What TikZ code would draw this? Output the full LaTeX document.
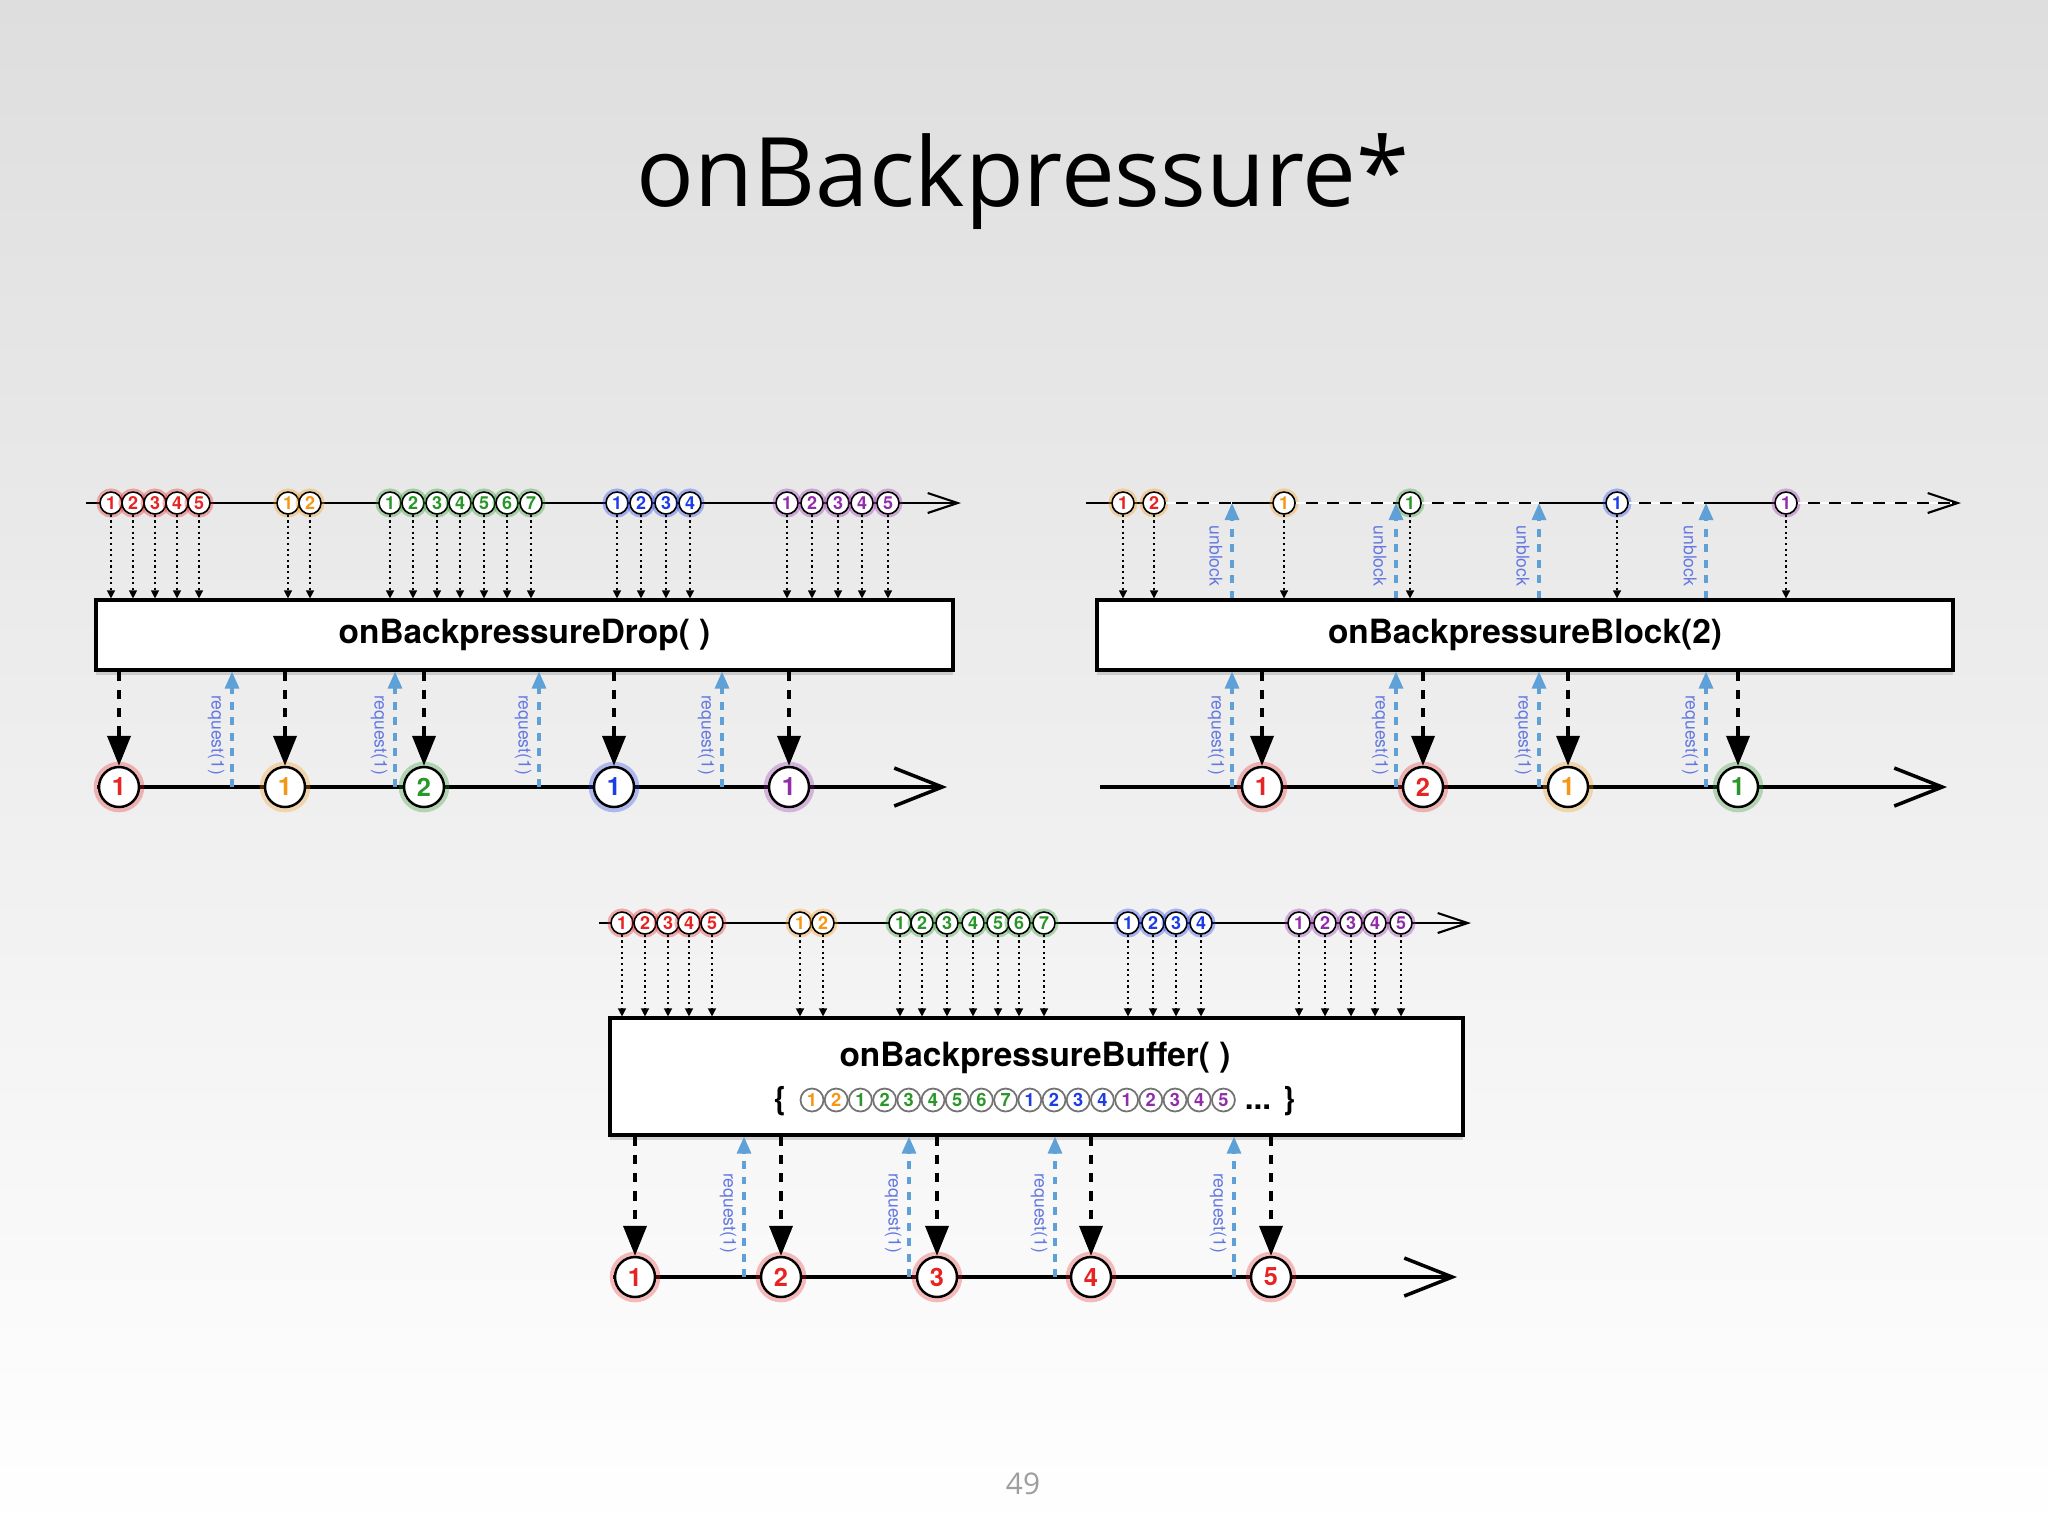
\documentclass[tikz,border=0pt]{standalone}
\usepackage{fontspec}
\setmainfont{Open Sans}
\newfontfamily\heros{TeX Gyre Heros}
\usetikzlibrary{arrows.meta,calc,positioning,shadows}
\definecolor{mred}{RGB}{232,35,35}
\definecolor{morange}{RGB}{245,150,20}
\definecolor{mgreen}{RGB}{40,150,40}
\definecolor{mblue}{RGB}{30,60,230}
\definecolor{mpurple}{RGB}{145,45,170}
\definecolor{reqblue}{RGB}{95,160,215}
\definecolor{lblblue}{RGB}{100,120,225}
\definecolor{bgtop}{RGB}{222,222,222}

\begin{document}
\begin{tikzpicture}[x=0.1mm,y=-0.1mm,
    marble/.style={circle,draw=black,line width=0.45pt,fill=white,inner sep=0pt,minimum size=2.2mm,text=#1,
      font={\heros\bfseries\fontsize{5.1}{6}\selectfont},preaction={draw=#1,draw opacity=0.35,line width=2pt}},
    bigmarble/.style={circle,draw=black,line width=0.7pt,fill=white,inner sep=0pt,minimum size=4mm,text=#1,
      font={\heros\bfseries\fontsize{7.2}{8}\selectfont},preaction={draw=#1,draw opacity=0.3,line width=3pt}},
    bufmarble/.style={circle,draw=black!55,line width=0.5pt,fill=white,inner sep=0pt,minimum size=2.3mm,text=#1,
      font={\heros\bfseries\fontsize{5.2}{6}\selectfont}},
    opbox/.style={draw,line width=0.9pt,fill=white,inner sep=0pt,
      drop shadow={shadow xshift=0pt,shadow yshift=-1.5pt,opacity=0.3}},
    optext/.style={font={\heros\bfseries\fontsize{9.5}{11}\selectfont}},
    srcline/.style={line width=0.6pt,-{Straight Barb[length=3mm,width=2mm]}},
    gap/.style={draw=white,line width=0.75pt,dash pattern=on 2.8pt off 3.4pt},
    resline/.style={line width=1pt,-{Straight Barb[length=4.8mm,width=3.8mm]}},
    feed/.style={line width=0.35pt,dash pattern=on 0.6pt off 1pt,-{Triangle[length=0.8mm,width=0.8mm]}},
    emit/.style={line width=1.1pt,dash pattern=on 2.6pt off 2.6pt,-{Triangle[length=3mm,width=2.3mm]}},
    req/.style={reqblue,line width=0.9pt,dash pattern=on 2.2pt off 2.2pt,-{Triangle[length=1.7mm,width=1.4mm]}},
    reqlbl/.style={text=lblblue,rotate=-90,inner sep=0pt,font={\heros\fontsize{5}{6}\selectfont}}]
  % slide background
  \shade[top color=bgtop,bottom color=white] (0,0) rectangle (2048,1536);
  \node[anchor=base,font=\fontsize{27.3}{32}\selectfont] (title) at (1023,206) {onBackpressure*};
  \node[anchor=base,text=black!38,font=\fontsize{8.5}{10}\selectfont] (page) at (1023,1494) {49};

  % --- onBackpressureDrop ---
  \node[opbox,optext,minimum width=85.7mm,minimum height=7mm] (drop) at (524.5,635) {onBackpressureDrop( )};
  \coordinate (d0) at (86,503);
  \coordinate (d1) at (961,503);
  \draw[srcline] (d0) -- (d1);
  \foreach \x/\n/\c [count=\i] in {111/1/mred,133/2/mred,155/3/mred,177/4/mred,199/5/mred,
      288/1/morange,310/2/morange,
      390/1/mgreen,413/2/mgreen,437/3/mgreen,460/4/mgreen,484/5/mgreen,507/6/mgreen,531/7/mgreen,
      617/1/mblue,641/2/mblue,666/3/mblue,690/4/mblue,
      787/1/mpurple,812/2/mpurple,838/3/mpurple,862/4/mpurple,888/5/mpurple} {
    \node[marble=\c] (dm\i) at (\x,503) {\n};
    \draw[feed] (dm\i) -- (dm\i |- drop.north);
  }
  \coordinate (d2) at (97,787);
  \coordinate (d3) at (947,787);
  \draw[resline] (d2) -- (d3);
  \foreach \x/\n/\c [count=\i] in {119/1/mred,285/1/morange,424/2/mgreen,614/1/mblue,789/1/mpurple} {
    \node[bigmarble=\c] (do\i) at (\x,787) {\n};
    \draw[emit] (do\i |- drop.south) -- (do\i);
  }
  \foreach \x [count=\i] in {232,395,539,722} {
    \coordinate (dr\i) at (\x,787);
    \draw[req] (dr\i) -- (dr\i |- drop.south);
    \node[reqlbl] (drl\i) at ($(dr\i)+(-16,-52)$) {request(1)};
  }

  % --- onBackpressureBlock ---
  \node[opbox,optext,minimum width=85.6mm,minimum height=7mm] (block) at (1525,635) {onBackpressureBlock(2)};
  \coordinate (b0) at (1086,503);
  \coordinate (b1) at (1961,503);
  \coordinate (b1e) at (1952,503);
  \foreach \x [count=\i] in {1232,1396,1539,1706}
    \coordinate (bu\i) at (\x,503);
  \draw[srcline] (b0) -- (b1);
  \foreach \x/\n/\c/\t [count=\i] in {1123/1/morange/mred,1154/2/morange/mred,1284/1/morange/morange,
      1410/1/mgreen/mgreen,1617/1/mblue/mblue,1786/1/mpurple/mpurple} {
    \node[marble=\c,text=\t] (bm\i) at (\x,503) {\n};
    \draw[feed] (bm\i) -- (bm\i |- block.north);
  }
  % blocked stretches of the source
  \draw[gap] (bm2) -- (bu1);
  \draw[gap] (bm3) -- (bu2);
  \draw[gap] (bm4) -- (bu3);
  \draw[gap] (bm5) -- (bu4);
  \draw[gap] (bm6) -- (b1e);
  \foreach \i in {1,...,4} {
    \draw[req] (bu\i |- block.north) -- (bu\i);
    \node[reqlbl] (bul\i) at ($(bu\i)+(-16,53)$) {unblock};
  }
  \coordinate (b2) at (1100,787);
  \coordinate (b3) at (1947,787);
  \draw[resline] (b2) -- (b3);
  \foreach \x/\n/\c [count=\i] in {1262/1/mred,1423/2/mred,1568/1/morange,1738/1/mgreen} {
    \node[bigmarble=\c] (bo\i) at (\x,787) {\n};
    \draw[emit] (bo\i |- block.south) -- (bo\i);
  }
  \foreach \i in {1,...,4} {
    \coordinate (br\i) at (bu\i |- b2);
    \draw[req] (br\i) -- (br\i |- block.south);
    \node[reqlbl] (brl\i) at ($(br\i)+(-16,-52)$) {request(1)};
  }

  % --- onBackpressureBuffer ---
  \node[opbox,minimum width=85.3mm,minimum height=11.7mm] (buffer) at (1036.5,1076.5) {};
  \node[optext] (buftxt) at (1035,1058) {onBackpressureBuffer( )};
  \node[anchor=base,font={\heros\bfseries\fontsize{9}{10}\selectfont}] (lbrace) at (780,1109) {\{};
  \foreach \n/\c [count=\i] in {1/morange,2/morange,1/mgreen,2/mgreen,3/mgreen,4/mgreen,5/mgreen,6/mgreen,7/mgreen,
      1/mblue,2/mblue,3/mblue,4/mblue,1/mpurple,2/mpurple,3/mpurple,4/mpurple,5/mpurple}
    \node[bufmarble=\c] (q\i) at ({812+24.2*(\i-1)},1100) {\n};
  \node[anchor=base,font={\heros\bfseries\fontsize{9}{10}\selectfont}] (dots) at (1258,1109) {...};
  \node[anchor=base,font={\heros\bfseries\fontsize{9}{10}\selectfont}] (rbrace) at (1289,1109) {\}};
  \coordinate (f0) at (599,923);
  \coordinate (f1) at (1471,923);
  \draw[srcline] (f0) -- (f1);
  \foreach \x/\n/\c [count=\i] in {622/1/mred,645/2/mred,668/3/mred,689/4/mred,712/5/mred,
      800/1/morange,823/2/morange,
      900/1/mgreen,922/2/mgreen,947/3/mgreen,973/4/mgreen,998/5/mgreen,1019/6/mgreen,1044/7/mgreen,
      1128/1/mblue,1153/2/mblue,1176/3/mblue,1201/4/mblue,
      1299/1/mpurple,1325/2/mpurple,1351/3/mpurple,1375/4/mpurple,1401/5/mpurple} {
    \node[marble=\c] (fm\i) at (\x,923) {\n};
    \draw[feed] (fm\i) -- (fm\i |- buffer.north);
  }
  \coordinate (f2) at (613,1277);
  \coordinate (f3) at (1457,1277);
  \draw[resline] (f2) -- (f3);
  \foreach \x [count=\i] in {635,781,937,1091,1271} {
    \node[bigmarble=mred] (fo\i) at (\x,1277) {\i};
    \draw[emit] (fo\i |- buffer.south) -- (fo\i);
  }
  \foreach \x [count=\i] in {744,909,1055,1234} {
    \coordinate (fr\i) at (\x,1277);
    \draw[req] (fr\i) -- (fr\i |- buffer.south);
    \node[reqlbl] (frl\i) at ($(fr\i)+(-16,-64)$) {request(1)};
  }
\end{tikzpicture}
\end{document}
